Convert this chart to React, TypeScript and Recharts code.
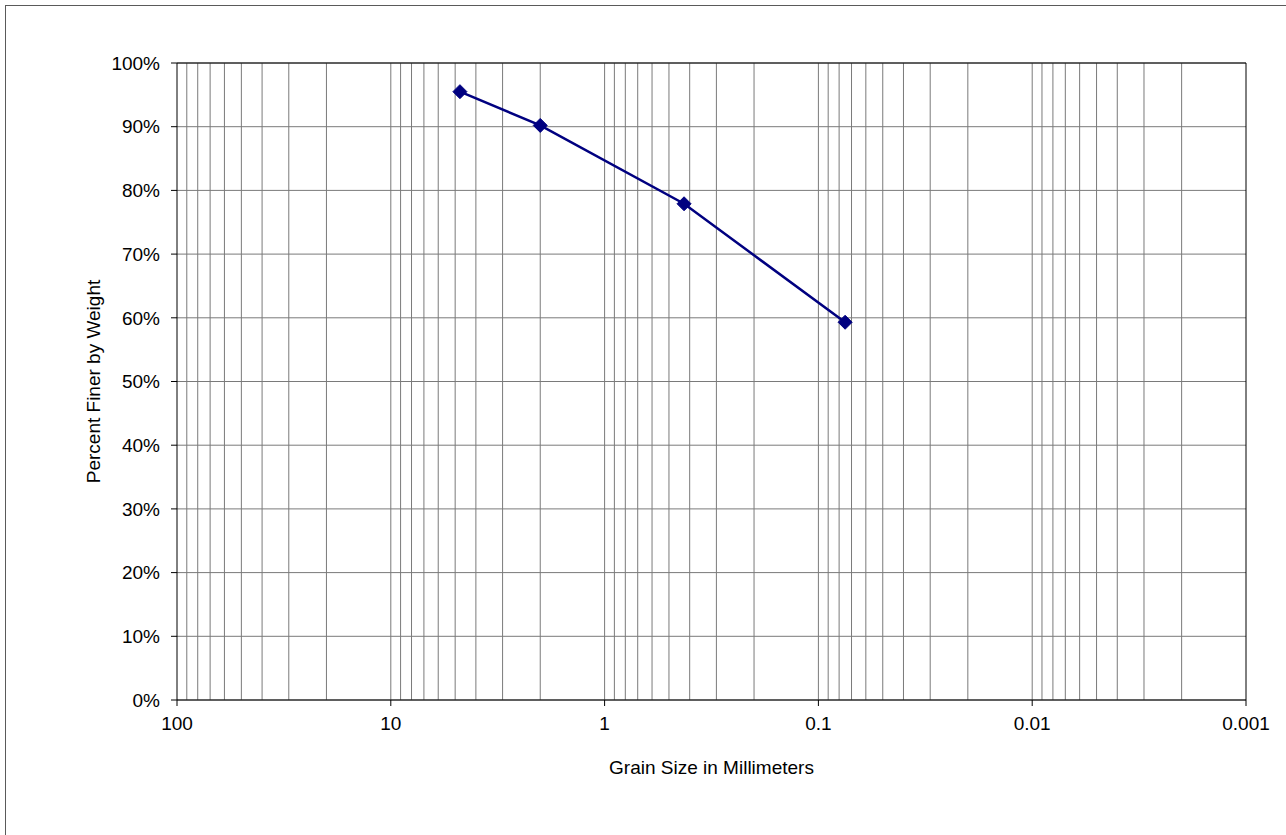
import React from 'react';
import { LineChart, Line, XAxis, YAxis, CartesianGrid, ReferenceLine } from 'recharts';

// sieve sizes (mm) and percent passing
const grainSize = [4.75, 2.0, 0.425, 0.075];
const percentFiner = [95.5, 90.2, 77.9, 59.3];

const xTicks = [100, 10, 1, 0.1, 0.01, 0.001];
const yTicks = [0, 10, 20, 30, 40, 50, 60, 70, 80, 90, 100];

// log-cycle grid lines (2..9 of each decade, plus decades)
const gridValues = [
  90, 80, 70, 60, 50, 40, 30, 20, 10,
  9, 8, 7, 6, 5, 4, 3, 2, 1,
  0.9, 0.8, 0.7, 0.6, 0.5, 0.4, 0.3, 0.2, 0.1,
  0.09, 0.08, 0.07, 0.06, 0.05, 0.04, 0.03, 0.02, 0.01,
  0.009, 0.008, 0.007, 0.006, 0.005, 0.004, 0.003, 0.002,
];

const data = grainSize.map((s, i) => ({ size: s, pct: percentFiner[i] }));

const FONT = '"Liberation Sans", Arial, sans-serif';

const Diamond = (props: any) => {
  const { cx, cy } = props;
  if (cx == null || cy == null) return null;
  const r = 7;
  return (
    <path
      d={`M${cx},${cy - r} L${cx + r},${cy} L${cx},${cy + r} L${cx - r},${cy} Z`}
      fill="#000080"
      stroke="#000080"
    />
  );
};

export default function App() {
  return (
    <div style={{ position: 'absolute', left: 0, top: 0, width: 1286, height: 835, overflow: 'hidden', background: '#fff' }}>
      {/* outer chart-area frame, cropped at right and bottom */}
      <div style={{ position: 'absolute', left: 5, top: 5, width: 1320, height: 860, border: '1px solid #5a5a5a' }} />
      <div style={{ position: 'absolute', left: 0, top: 0 }}>
        <LineChart width={1286} height={835} data={data} margin={{ top: 63, right: 40, left: 0, bottom: 0 }}>
          <CartesianGrid vertical={false} stroke="#7a7a7a" strokeWidth={1} />
          {gridValues.map((v) => (
            <ReferenceLine key={v} x={v} stroke="#7a7a7a" strokeWidth={1} ifOverflow="hidden" />
          ))}
          <ReferenceLine y={100} stroke="#000" strokeWidth={1} />
          <ReferenceLine x={0.001} stroke="#000" strokeWidth={1} />
          <XAxis
            dataKey="size"
            type="number"
            scale="log"
            domain={[0.001, 100]}
            reversed
            allowDataOverflow
            ticks={xTicks}
            tickFormatter={(v) => String(v)}
            height={135}
            tickSize={6}
            tickMargin={11}
            stroke="#000"
            tick={{ fill: '#000', fontSize: 19, fontFamily: FONT }}
            label={{ value: 'Grain Size in Millimeters', position: 'center', fill: '#000', fontSize: 19, fontFamily: FONT }}
          />
          <YAxis
            type="number"
            domain={[0, 100]}
            ticks={yTicks}
            tickFormatter={(v) => `${v}%`}
            width={177}
            tickSize={6}
            tickMargin={11}
            stroke="#000"
            tick={{ fill: '#000', fontSize: 19, fontFamily: FONT }}
            label={{ value: 'Percent Finer by Weight', angle: -90, position: 'center', dx: 5, fill: '#000', fontSize: 19, fontFamily: FONT }}
          />
          <Line
            dataKey="pct"
            type="linear"
            stroke="#000080"
            strokeWidth={2.5}
            dot={<Diamond />}
            activeDot={false}
            isAnimationActive={false}
          />
        </LineChart>
      </div>
    </div>
  );
}
